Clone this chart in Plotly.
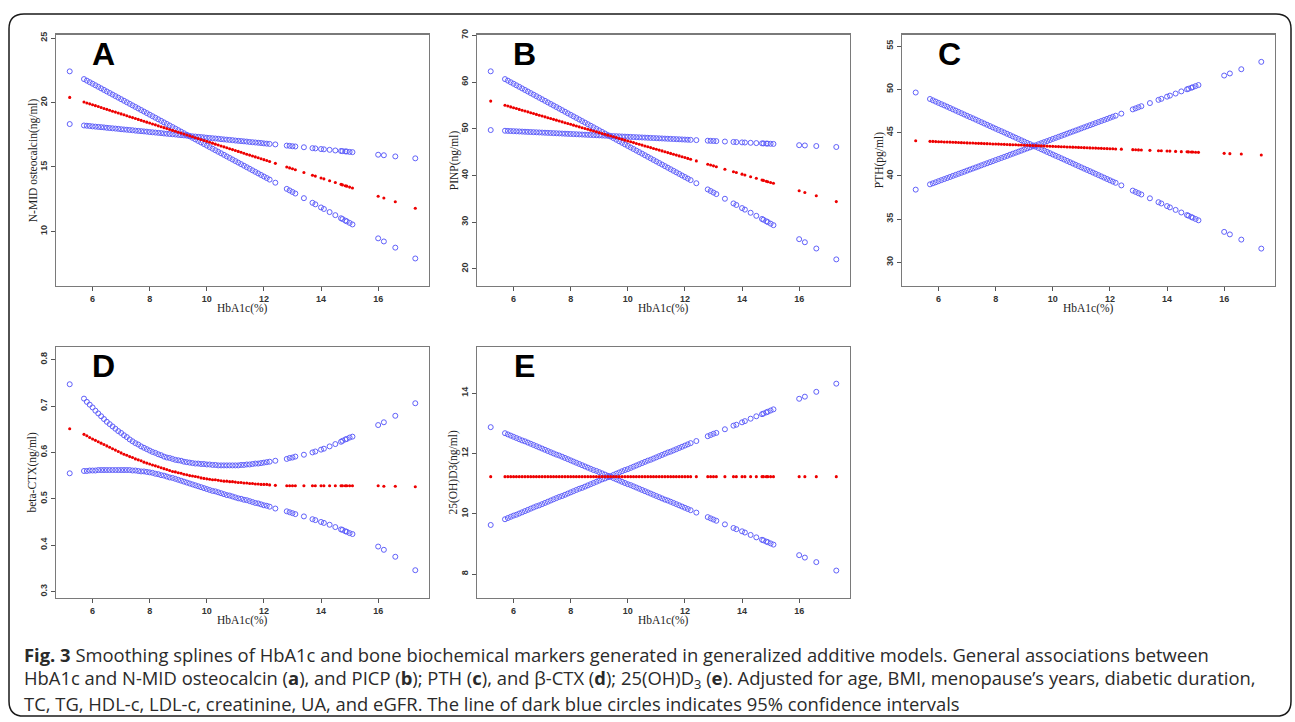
import plotly.graph_objects as go

W, H = 1295, 722

# ---------------- data ----------------
hba1c = [5.2,
         5.7, 5.8, 5.9, 6.0, 6.1, 6.2, 6.3, 6.4, 6.5, 6.6,
         6.7, 6.8, 6.9, 7.0, 7.1, 7.2, 7.3, 7.4, 7.5, 7.6,
         7.7, 7.8, 7.9, 8.0, 8.1, 8.2, 8.3, 8.4, 8.5, 8.6,
         8.7, 8.8, 8.9, 9.0, 9.1, 9.2, 9.3, 9.4, 9.5, 9.6,
         9.7, 9.8, 9.9, 10.0, 10.1, 10.2, 10.3, 10.4, 10.5, 10.6,
         10.7, 10.8, 10.9, 11.0, 11.1, 11.2, 11.3, 11.4, 11.5, 11.6,
         11.7, 11.8, 11.9, 12.0, 12.1, 12.2,
         12.4, 12.8, 12.9, 13.0, 13.1, 13.4, 13.7, 13.8, 14.0, 14.1, 14.3,
         14.5, 14.7, 14.75, 14.85, 14.9, 15.0, 15.1, 16.0, 16.2, 16.6, 17.3]

# A: N-MID osteocalcin
A_fit = [20.40,
         20.04, 19.97, 19.90, 19.83, 19.76, 19.69, 19.61, 19.54, 19.47, 19.40,
         19.33, 19.26, 19.19, 19.12, 19.05, 18.98, 18.90, 18.83, 18.76, 18.69,
         18.62, 18.55, 18.48, 18.41, 18.34, 18.27, 18.19, 18.12, 18.05, 17.98,
         17.91, 17.84, 17.77, 17.70, 17.63, 17.56, 17.48, 17.41, 17.34, 17.27,
         17.20, 17.13, 17.06, 16.99, 16.92, 16.85, 16.77, 16.70, 16.63, 16.56,
         16.49, 16.42, 16.35, 16.28, 16.21, 16.14, 16.06, 15.99, 15.92, 15.85,
         15.78, 15.71, 15.64, 15.57, 15.50, 15.43,
         15.28, 15.00, 14.93, 14.86, 14.79, 14.57, 14.36, 14.29, 14.15, 14.08, 13.93,
         13.79, 13.65, 13.61, 13.54, 13.51, 13.44, 13.37, 12.73, 12.59, 12.30, 11.80]
A_ci1 = [22.42,
         21.82, 21.70, 21.58, 21.46, 21.34, 21.22, 21.10, 20.98, 20.86, 20.74,
         20.62, 20.50, 20.38, 20.26, 20.14, 20.02, 19.90, 19.78, 19.66, 19.54,
         19.42, 19.30, 19.18, 19.06, 18.94, 18.82, 18.70, 18.58, 18.46, 18.34,
         18.22, 18.10, 17.98, 17.86, 17.74, 17.62, 17.50, 17.38, 17.26, 17.14,
         17.02, 16.90, 16.78, 16.66, 16.54, 16.42, 16.30, 16.18, 16.06, 15.94,
         15.82, 15.70, 15.58, 15.46, 15.34, 15.22, 15.10, 14.98, 14.86, 14.74,
         14.62, 14.50, 14.38, 14.26, 14.14, 14.02,
         13.78, 13.30, 13.18, 13.06, 12.94, 12.58, 12.22, 12.10, 11.86, 11.74, 11.50,
         11.26, 11.02, 10.96, 10.84, 10.78, 10.66, 10.54, 9.46, 9.22, 8.74, 7.90]
A_ci2 = [18.33,
         18.22, 18.20, 18.18, 18.15, 18.13, 18.11, 18.09, 18.07, 18.04, 18.02,
         18.00, 17.98, 17.96, 17.93, 17.91, 17.89, 17.87, 17.85, 17.82, 17.80,
         17.78, 17.76, 17.74, 17.71, 17.69, 17.67, 17.65, 17.63, 17.60, 17.58,
         17.56, 17.54, 17.52, 17.49, 17.47, 17.45, 17.43, 17.41, 17.38, 17.36,
         17.34, 17.32, 17.30, 17.27, 17.25, 17.23, 17.21, 17.19, 17.16, 17.14,
         17.12, 17.10, 17.08, 17.05, 17.03, 17.01, 16.99, 16.97, 16.94, 16.92,
         16.90, 16.88, 16.86, 16.83, 16.81, 16.79,
         16.75, 16.66, 16.64, 16.61, 16.59, 16.53, 16.46, 16.44, 16.39, 16.37, 16.33,
         16.28, 16.24, 16.23, 16.21, 16.20, 16.17, 16.15, 15.95, 15.91, 15.82, 15.67]

# B: PINP
B_fit = [55.93,
         55.04, 54.86, 54.68, 54.51, 54.33, 54.15, 53.97, 53.79, 53.62, 53.44,
         53.26, 53.08, 52.90, 52.73, 52.55, 52.37, 52.19, 52.01, 51.84, 51.66,
         51.48, 51.30, 51.12, 50.95, 50.77, 50.59, 50.41, 50.23, 50.06, 49.88,
         49.70, 49.52, 49.34, 49.17, 48.99, 48.81, 48.63, 48.45, 48.28, 48.10,
         47.92, 47.74, 47.56, 47.39, 47.21, 47.03, 46.85, 46.67, 46.50, 46.32,
         46.14, 45.96, 45.78, 45.61, 45.43, 45.25, 45.07, 44.89, 44.72, 44.54,
         44.36, 44.18, 44.00, 43.83, 43.65, 43.47,
         43.11, 42.40, 42.22, 42.05, 41.87, 41.33, 40.80, 40.62, 40.27, 40.09, 39.73,
         39.38, 39.02, 38.93, 38.75, 38.66, 38.49, 38.31, 36.71, 36.35, 35.64, 34.39]
B_ci1 = [62.31,
         60.64, 60.31, 59.97, 59.64, 59.31, 58.98, 58.64, 58.31, 57.98, 57.64,
         57.31, 56.98, 56.64, 56.31, 55.98, 55.65, 55.31, 54.98, 54.65, 54.31,
         53.98, 53.65, 53.31, 52.98, 52.65, 52.32, 51.98, 51.65, 51.32, 50.98,
         50.65, 50.32, 49.98, 49.65, 49.32, 48.99, 48.65, 48.32, 47.99, 47.65,
         47.32, 46.99, 46.65, 46.32, 45.99, 45.66, 45.32, 44.99, 44.66, 44.32,
         43.99, 43.66, 43.32, 42.99, 42.66, 42.33, 41.99, 41.66, 41.33, 40.99,
         40.66, 40.33, 39.99, 39.66, 39.33, 39.00,
         38.33, 37.00, 36.66, 36.33, 36.00, 35.00, 34.00, 33.67, 33.00, 32.67, 32.00,
         31.34, 30.67, 30.50, 30.17, 30.00, 29.67, 29.34, 26.34, 25.68, 24.34, 22.01]
B_ci2 = [49.72,
         49.57, 49.54, 49.51, 49.48, 49.45, 49.42, 49.39, 49.36, 49.33, 49.30,
         49.27, 49.24, 49.21, 49.18, 49.15, 49.12, 49.09, 49.06, 49.03, 49.00,
         48.97, 48.94, 48.91, 48.88, 48.85, 48.82, 48.79, 48.76, 48.73, 48.70,
         48.67, 48.64, 48.61, 48.58, 48.55, 48.52, 48.49, 48.46, 48.43, 48.40,
         48.37, 48.34, 48.31, 48.28, 48.25, 48.22, 48.19, 48.16, 48.13, 48.10,
         48.07, 48.04, 48.01, 47.98, 47.95, 47.92, 47.89, 47.86, 47.83, 47.80,
         47.77, 47.74, 47.71, 47.68, 47.65, 47.62,
         47.56, 47.44, 47.41, 47.38, 47.35, 47.26, 47.17, 47.14, 47.08, 47.05, 46.99,
         46.93, 46.87, 46.86, 46.83, 46.81, 46.78, 46.75, 46.48, 46.42, 46.30, 46.09]

# C: PTH
C_fit = [44.06,
         43.99, 43.98, 43.96, 43.95, 43.94, 43.92, 43.91, 43.90, 43.88, 43.87,
         43.86, 43.84, 43.83, 43.81, 43.80, 43.79, 43.77, 43.76, 43.75, 43.73,
         43.72, 43.71, 43.69, 43.68, 43.67, 43.65, 43.64, 43.63, 43.61, 43.60,
         43.59, 43.57, 43.56, 43.54, 43.53, 43.52, 43.50, 43.49, 43.48, 43.46,
         43.45, 43.44, 43.42, 43.41, 43.40, 43.38, 43.37, 43.36, 43.34, 43.33,
         43.32, 43.30, 43.29, 43.27, 43.26, 43.25, 43.23, 43.22, 43.21, 43.19,
         43.18, 43.17, 43.15, 43.14, 43.13, 43.11,
         43.09, 43.03, 43.02, 43.00, 42.99, 42.95, 42.91, 42.90, 42.87, 42.86, 42.83,
         42.80, 42.78, 42.77, 42.76, 42.75, 42.73, 42.72, 42.60, 42.57, 42.52, 42.42]
C_ci1 = [38.41,
         39.02, 39.14, 39.26, 39.39, 39.51, 39.63, 39.75, 39.87, 40.00, 40.12,
         40.24, 40.36, 40.48, 40.61, 40.73, 40.85, 40.97, 41.09, 41.22, 41.34,
         41.46, 41.58, 41.70, 41.83, 41.95, 42.07, 42.19, 42.31, 42.44, 42.56,
         42.68, 42.80, 42.92, 43.05, 43.17, 43.29, 43.41, 43.53, 43.66, 43.78,
         43.90, 44.02, 44.14, 44.27, 44.39, 44.51, 44.63, 44.75, 44.88, 45.00,
         45.12, 45.24, 45.36, 45.49, 45.61, 45.73, 45.85, 45.97, 46.10, 46.22,
         46.34, 46.46, 46.58, 46.71, 46.83, 46.95,
         47.19, 47.68, 47.80, 47.93, 48.05, 48.41, 48.78, 48.90, 49.15, 49.27, 49.51,
         49.76, 50.00, 50.06, 50.18, 50.24, 50.37, 50.49, 51.59, 51.83, 52.32, 53.17]
C_ci2 = [49.63,
         48.88, 48.73, 48.58, 48.43, 48.28, 48.14, 47.99, 47.84, 47.69, 47.54,
         47.39, 47.24, 47.09, 46.94, 46.79, 46.65, 46.50, 46.35, 46.20, 46.05,
         45.90, 45.75, 45.60, 45.45, 45.30, 45.16, 45.01, 44.86, 44.71, 44.56,
         44.41, 44.26, 44.11, 43.96, 43.81, 43.67, 43.52, 43.37, 43.22, 43.07,
         42.92, 42.77, 42.62, 42.47, 42.32, 42.18, 42.03, 41.88, 41.73, 41.58,
         41.43, 41.28, 41.13, 40.98, 40.83, 40.69, 40.54, 40.39, 40.24, 40.09,
         39.94, 39.79, 39.64, 39.49, 39.34, 39.20,
         38.90, 38.30, 38.15, 38.00, 37.85, 37.41, 36.96, 36.81, 36.51, 36.36, 36.07,
         35.77, 35.47, 35.40, 35.25, 35.17, 35.02, 34.87, 33.53, 33.24, 32.64, 31.60]

# D: beta-CTX
D_fit = [0.651,
         0.639, 0.636, 0.632, 0.629, 0.626, 0.623, 0.620, 0.617, 0.614, 0.611,
         0.608, 0.605, 0.602, 0.599, 0.596, 0.594, 0.591, 0.589, 0.586, 0.584,
         0.582, 0.579, 0.577, 0.575, 0.573, 0.571, 0.569, 0.567, 0.565, 0.563,
         0.561, 0.559, 0.558, 0.556, 0.555, 0.553, 0.552, 0.550, 0.549, 0.548,
         0.547, 0.545, 0.544, 0.543, 0.542, 0.541, 0.541, 0.540, 0.539, 0.538,
         0.538, 0.537, 0.537, 0.536, 0.535, 0.535, 0.534, 0.534, 0.533, 0.533,
         0.532, 0.532, 0.531, 0.531, 0.531, 0.530,
         0.529, 0.528, 0.528, 0.528, 0.528, 0.528, 0.528, 0.528, 0.528, 0.528, 0.528,
         0.528, 0.528, 0.528, 0.528, 0.528, 0.528, 0.528, 0.528, 0.527, 0.527, 0.526]
D_ci1 = [0.747,
         0.716, 0.709, 0.703, 0.697, 0.690, 0.684, 0.678, 0.672, 0.666, 0.661,
         0.656, 0.651, 0.646, 0.642, 0.637, 0.633, 0.628, 0.624, 0.620, 0.617,
         0.613, 0.610, 0.607, 0.604, 0.601, 0.599, 0.596, 0.594, 0.591, 0.589,
         0.588, 0.586, 0.584, 0.583, 0.582, 0.580, 0.579, 0.578, 0.577, 0.576,
         0.576, 0.575, 0.575, 0.574, 0.574, 0.573, 0.573, 0.572, 0.572, 0.572,
         0.572, 0.572, 0.572, 0.572, 0.572, 0.573, 0.573, 0.574, 0.574, 0.575,
         0.576, 0.576, 0.577, 0.578, 0.579, 0.580,
         0.582, 0.586, 0.588, 0.589, 0.591, 0.595, 0.600, 0.602, 0.606, 0.608, 0.613,
         0.618, 0.623, 0.625, 0.628, 0.629, 0.632, 0.634, 0.659, 0.665, 0.679, 0.706]
D_ci2 = [0.555,
         0.560, 0.560, 0.561, 0.561, 0.561, 0.562, 0.562, 0.562, 0.562, 0.562,
         0.562, 0.562, 0.562, 0.562, 0.562, 0.562, 0.562, 0.561, 0.561, 0.560,
         0.559, 0.559, 0.558, 0.557, 0.556, 0.554, 0.553, 0.551, 0.550, 0.548,
         0.546, 0.545, 0.543, 0.541, 0.539, 0.537, 0.535, 0.533, 0.531, 0.529,
         0.527, 0.525, 0.523, 0.521, 0.519, 0.517, 0.516, 0.514, 0.512, 0.510,
         0.508, 0.507, 0.505, 0.503, 0.501, 0.500, 0.498, 0.497, 0.495, 0.493,
         0.491, 0.490, 0.488, 0.486, 0.485, 0.483,
         0.479, 0.473, 0.471, 0.469, 0.467, 0.462, 0.456, 0.454, 0.450, 0.448, 0.444,
         0.439, 0.434, 0.433, 0.430, 0.429, 0.426, 0.424, 0.397, 0.390, 0.375, 0.346]

# E: 25(OH)D3
E_fit = [11.23,
         11.23, 11.23, 11.23, 11.23, 11.23, 11.23, 11.23, 11.23, 11.23, 11.23,
         11.23, 11.23, 11.23, 11.23, 11.23, 11.23, 11.23, 11.23, 11.23, 11.23,
         11.23, 11.23, 11.23, 11.23, 11.23, 11.23, 11.23, 11.23, 11.23, 11.23,
         11.23, 11.23, 11.23, 11.23, 11.23, 11.23, 11.23, 11.23, 11.23, 11.23,
         11.23, 11.23, 11.23, 11.23, 11.23, 11.23, 11.23, 11.23, 11.23, 11.23,
         11.23, 11.23, 11.23, 11.23, 11.23, 11.23, 11.23, 11.23, 11.23, 11.23,
         11.23, 11.23, 11.23, 11.23, 11.23, 11.23,
         11.23, 11.23, 11.23, 11.23, 11.23, 11.23, 11.23, 11.23, 11.23, 11.23, 11.23,
         11.23, 11.23, 11.23, 11.23, 11.23, 11.23, 11.23, 11.23, 11.23, 11.23, 11.23]
E_ci1 = [9.63,
         9.82, 9.86, 9.90, 9.94, 9.97, 10.01, 10.05, 10.09, 10.13, 10.17,
         10.21, 10.25, 10.28, 10.32, 10.36, 10.40, 10.44, 10.48, 10.52, 10.56,
         10.59, 10.63, 10.67, 10.71, 10.75, 10.79, 10.83, 10.86, 10.90, 10.94,
         10.98, 11.02, 11.06, 11.10, 11.14, 11.17, 11.21, 11.25, 11.29, 11.33,
         11.37, 11.41, 11.45, 11.48, 11.52, 11.56, 11.60, 11.64, 11.68, 11.72,
         11.76, 11.79, 11.83, 11.87, 11.91, 11.95, 11.99, 12.03, 12.06, 12.10,
         12.14, 12.18, 12.22, 12.26, 12.30, 12.34,
         12.41, 12.57, 12.61, 12.65, 12.68, 12.80, 12.92, 12.95, 13.03, 13.07, 13.15,
         13.23, 13.30, 13.32, 13.36, 13.38, 13.42, 13.46, 13.81, 13.88, 14.04, 14.31]
E_ci2 = [12.87,
         12.67, 12.63, 12.59, 12.55, 12.51, 12.47, 12.43, 12.40, 12.36, 12.32,
         12.28, 12.24, 12.20, 12.16, 12.12, 12.08, 12.04, 12.00, 11.96, 11.93,
         11.89, 11.85, 11.81, 11.77, 11.73, 11.69, 11.65, 11.61, 11.57, 11.53,
         11.49, 11.45, 11.42, 11.38, 11.34, 11.30, 11.26, 11.22, 11.18, 11.14,
         11.10, 11.06, 11.02, 10.98, 10.95, 10.91, 10.87, 10.83, 10.79, 10.75,
         10.71, 10.67, 10.63, 10.59, 10.55, 10.51, 10.47, 10.44, 10.40, 10.36,
         10.32, 10.28, 10.24, 10.20, 10.16, 10.12,
         10.04, 9.89, 9.85, 9.81, 9.77, 9.65, 9.53, 9.49, 9.42, 9.38, 9.30,
         9.22, 9.14, 9.12, 9.08, 9.06, 9.02, 8.98, 8.63, 8.55, 8.40, 8.12]

x_ticks = [6, 8, 10, 12, 14, 16]
x_title = "HbA1c(%)"
letters = ["A", "B", "C", "D", "E"]
y_titles = ["N-MID osteocalcin(ng/ml)", "PINP(ng/ml)", "PTH(pg/ml)",
            "beta-CTX(ng/ml)", "25(OH)D3(ng/ml)"]
y_ticks = [[10, 15, 20, 25], [20, 30, 40, 50, 60, 70], [30, 35, 40, 45, 50, 55],
           [0.3, 0.4, 0.5, 0.6, 0.7, 0.8], [8, 10, 12, 14]]
caption = [
    "<b>Fig. 3</b> Smoothing splines of HbA1c and bone biochemical markers generated in generalized additive models. General associations between",
    "HbA1c and N-MID osteocalcin (<b>a</b>), and PICP (<b>b</b>); PTH (<b>c</b>), and β-CTX (<b>d</b>); 25(OH)D<sub>3</sub> (<b>e</b>). Adjusted for age, BMI, menopause’s years, diabetic duration,",
    "TC, TG, HDL-c, LDL-c, creatinine, UA, and eGFR. The line of dark blue circles indicates 95% confidence intervals",
]

series = [(A_fit, A_ci1, A_ci2), (B_fit, B_ci1, B_ci2), (C_fit, C_ci1, C_ci2),
          (D_fit, D_ci1, D_ci2), (E_fit, E_ci1, E_ci2)]
for s in series:
    for arr in s:
        assert len(arr) == len(hba1c), len(arr)

# ---------------- layout / style ----------------
X_RANGE = [4.72, 17.78]
Y_RANGES = [[5.79, 25.26], [16.38, 70.14], [27.32, 56.3], [0.286, 0.827], [7.21, 15.52]]
# plot boxes in pixels: left, top, right, bottom
BOXES = [(56, 29, 429, 282), (477, 29, 850, 282), (902, 29, 1275, 282),
         (56, 344, 429, 597), (477, 344, 850, 597)]

BLUE = "rgb(96,96,250)"
RED = "rgb(238,0,0)"
FRAME = "#7a7a7a"
TICKFONT = dict(family="Liberation Sans, Arial", size=9, color="#333333", weight="bold")
SERIF = dict(family="Liberation Serif, Times New Roman", size=11.5, color="#222222")


def px(v):
    return v / W


def py(v):
    return 1 - v / H


fig = go.Figure()
annotations = []
layout_axes = {}

for i, ((fit, ci1, ci2), box) in enumerate(zip(series, BOXES)):
    sfx = "" if i == 0 else str(i + 1)
    xa, ya = "x" + sfx, "y" + sfx
    for ci in (ci1, ci2):
        fig.add_trace(go.Scatter(
            x=hba1c, y=ci, mode="markers", xaxis=xa, yaxis=ya,
            marker=dict(symbol="circle-open", size=5, color=BLUE,
                        line=dict(width=1, color=BLUE)),
            showlegend=False, hoverinfo="skip"))
    fig.add_trace(go.Scatter(
        x=hba1c, y=fit, mode="markers", xaxis=xa, yaxis=ya,
        marker=dict(symbol="circle", size=3.1, color=RED, line=dict(width=0)),
        showlegend=False, hoverinfo="skip"))

    l, t, r, b = box
    layout_axes["xaxis" + sfx] = dict(
        domain=[px(l), px(r)], range=X_RANGE, anchor=ya, tickvals=x_ticks,
        showline=True, mirror=True, linecolor=FRAME, linewidth=1.4,
        ticks="outside", ticklen=4, tickwidth=1, tickcolor="#555555",
        showgrid=False, zeroline=False, tickfont=TICKFONT, fixedrange=True)
    layout_axes["yaxis" + sfx] = dict(
        domain=[py(b), py(t)], range=Y_RANGES[i], anchor=xa, tickvals=y_ticks[i],
        tickangle=-90, showline=True, mirror=True, linecolor=FRAME, linewidth=1.4,
        ticks="outside", ticklen=4, tickwidth=1, tickcolor="#555555",
        showgrid=False, zeroline=False, tickfont=TICKFONT, fixedrange=True)

    # panel letter
    annotations.append(dict(
        text=letters[i], xref="paper", yref="paper",
        x=px(l + 47), y=py(t + 19), xanchor="center", yanchor="middle",
        showarrow=False,
        font=dict(family="Liberation Sans, Arial", size=32, color="black", weight="bold")))
    # x title
    annotations.append(dict(
        text=x_title, xref="paper", yref="paper",
        x=px((l + r) / 2), y=py(b + 23), xanchor="center", yanchor="middle",
        showarrow=False, font=SERIF))
    # y title
    annotations.append(dict(
        text=y_titles[i], xref="paper", yref="paper",
        x=px(l - 23), y=py((t + b) / 2), xanchor="center", yanchor="middle",
        textangle=-90, showarrow=False, font=SERIF))

for j, line in enumerate(caption):
    annotations.append(dict(
        text=line, xref="paper", yref="paper",
        x=px(22), y=py(654 + 24.5 * j), xanchor="left", yanchor="middle",
        showarrow=False,
        font=dict(family="Open Sans, Noto Sans, sans-serif", size=18.4, color="#2a2a2a")))

# rounded outer frame
L, T, R, B, rad = 9, 8, 1291, 716, 15
frame_path = (
    f"M {px(L + rad)},{py(T)} L {px(R - rad)},{py(T)} "
    f"Q {px(R)},{py(T)} {px(R)},{py(T + rad)} L {px(R)},{py(B - rad)} "
    f"Q {px(R)},{py(B)} {px(R - rad)},{py(B)} L {px(L + rad)},{py(B)} "
    f"Q {px(L)},{py(B)} {px(L)},{py(B - rad)} L {px(L)},{py(T + rad)} "
    f"Q {px(L)},{py(T)} {px(L + rad)},{py(T)} Z")

fig.update_layout(
    width=W, height=H, margin=dict(l=0, r=0, t=0, b=0),
    paper_bgcolor="white", plot_bgcolor="white",
    annotations=annotations,
    shapes=[dict(type="path", path=frame_path, xref="paper", yref="paper",
                 line=dict(color="#1a1a1a", width=1.5), fillcolor="rgba(0,0,0,0)", layer="above")],
    **layout_axes)

fig.write_html(
    "out.html",
    config={"displayModeBar": False, "staticPlot": True},
    post_script="document.body.style.margin='0';document.body.style.overflow='hidden';")
